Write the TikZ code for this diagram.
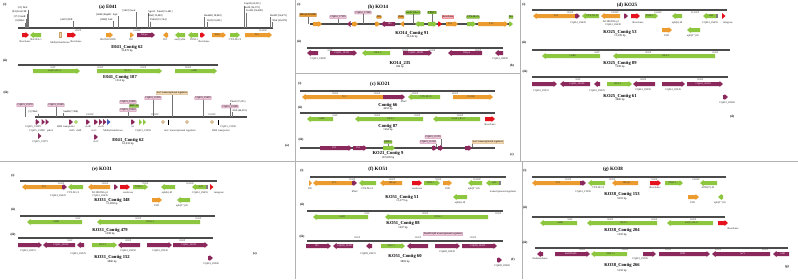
\documentclass[tikz,border=0pt]{standalone}
\usepackage{fontspec}
\setmainfont{Liberation Serif}
\definecolor{orc}{RGB}{236,156,46}
\definecolor{grc}{RGB}{141,198,63}
\definecolor{puc}{RGB}{139,40,92}
\definecolor{rdc}{RGB}{228,18,28}
\definecolor{blc}{RGB}{60,90,190}
\definecolor{pkf}{RGB}{236,200,218}
\definecolor{pkd}{RGB}{185,110,150}
\definecolor{bgf}{RGB}{243,217,177}
\definecolor{bgd}{RGB}{200,160,104}
\definecolor{barc}{RGB}{75,75,75}
\newcounter{gn}\newcounter{ln}
\newcommand{\gR}[5]{%
 \pgfmathsetmacro{\gh}{min(3.5,(#2-#1))}%
 \stepcounter{gn}%
 \fill[#4] (#1,#3-2) -- ({#2-\gh},#3-2) -- ({#2-\gh},#3-3) -- (#2,#3) -- ({#2-\gh},#3+3) -- ({#2-\gh},#3+2) -- (#1,#3+2) -- cycle;
 \node[inl,#4,fill=none] (g\arabic{gn}) at ({(#1+#2-\gh)/2},#3) {#5};}
\newcommand{\gL}[5]{%
 \pgfmathsetmacro{\gh}{min(3.5,(#2-#1))}%
 \stepcounter{gn}%
 \fill[#4] (#2,#3-2) -- ({#1+\gh},#3-2) -- ({#1+\gh},#3-3) -- (#1,#3) -- ({#1+\gh},#3+3) -- ({#1+\gh},#3+2) -- (#2,#3+2) -- cycle;
 \node[inl,#4,fill=none] (g\arabic{gn}) at ({(#1+#2+\gh)/2},#3) {#5};}
\newcommand{\lab}[3]{\stepcounter{ln}\node[gl] (l\arabic{ln}) at (#1,#2) {#3};}
\newcommand{\tk}[3]{\stepcounter{ln}\node[tkl] (t\arabic{ln}) at (#1,#2) {#3};}
\newcommand{\bx}[4]{\stepcounter{ln}\node[#1] (b\arabic{ln}) at (#2,#3) {#4};}
\newcommand{\rs}[5]{\stepcounter{ln}\node[rsl,anchor=#3] (r\arabic{ln}) at (#1,#2) {#4};
 \draw[lead] (r\arabic{ln}.#3) -- (r\arabic{ln}.#3 |- #5);}
\newcommand{\pin}[3]{\stepcounter{ln}\node[circle,inner sep=0,minimum size=3pt,fill=#3!40,draw=#3] (c\arabic{ln}) at (#1,#2) {};}
\begin{document}
\begin{tikzpicture}[x=1pt,y=-1pt,
 bar/.style={draw=barc,line width=1.4pt},
 sep/.style={draw=black!30,line width=0.7pt},
 lead/.style={draw=black!55,line width=0.25pt},
 pl/.style={font=\fontsize{3.2}{3.6}\selectfont\bfseries,inner sep=0},
 ttl/.style={font=\fontsize{5}{6}\selectfont\bfseries,inner sep=0},
 ctg/.style={font=\fontsize{4.6}{5}\selectfont\bfseries,inner sep=0},
 bpl/.style={font=\fontsize{2.8}{3}\selectfont,inner sep=0},
 tkl/.style={font=\fontsize{2.5}{2.8}\selectfont,inner sep=0,text=black!70},
 gl/.style={font=\fontsize{2.7}{3}\selectfont,inner sep=0,text=black!85},
 inl/.style={font=\fontsize{2.6}{2.8}\selectfont,inner sep=0},
 rsl/.style={font=\fontsize{2.6}{2.8}\selectfont,inner sep=0.2pt},
 boxl/.style={font=\fontsize{2.6}{2.8}\selectfont,inner sep=0.5pt,line width=0.25pt,rounded corners=0.4pt},
 pbox/.style={boxl,fill=pkf,draw=pkd},
 bbox/.style={boxl,fill=bgf,draw=bgd},
 gbox/.style={boxl,fill=grc,draw=grc!70!black},
 obox/.style={boxl,fill=orc,draw=orc!70!black},
 rbox/.style={boxl,fill=rdc!35,draw=rdc},
 geneO/.style={fill=orc,text=black!80},
 geneG/.style={fill=grc,text=black!80},
 geneP/.style={fill=puc,text=white},
 geneR/.style={fill=rdc,text=white},
 geneB/.style={fill=blc,text=white}]
\fill[white] (0,0) rectangle (798,279);
\useasboundingbox (0,0) rectangle (798,279);
% separators
\draw[sep] (295,0) -- (295,161);
\draw[sep] (520,0) -- (520,161);
\draw[sep] (0,161) -- (798,161);
\draw[sep] (295,161) -- (295,279);
\draw[sep] (522,161) -- (522,279);
\draw[sep] (295,73) -- (520,73);

%%%%%%%%%%%%%%%% (a) E041
\node[pl] (a-i) at (5,5) {(i)};
\node[ttl] (a-t) at (108,7) {(a) E041};
\coordinate (ba1) at (0,28);
\draw[bar] (18,28) -- (273,28);
\rs{28}{9.5}{south east}{[21] DraI}{ba1}
\rs{27}{13.5}{south east}{[83] EcoICRI}{ba1}
\rs{26}{18.5}{south east}{[173] AatII}{ba1}
\rs{25}{22.5}{south east}{[8] BbvI}{ba1}
\rs{73}{21}{south east}{[4419] SbfI}{ba1}
\rs{118}{16}{south east}{[6046] BspHI · SspI}{ba1}
\rs{113}{21}{south east}{[6890] AleI}{ba1}
\rs{136}{12}{south east}{[9433] SwaI}{ba1}
\rs{148}{13}{south west}{SgrAI · XmaI [15,481]}{ba1}
\rs{148}{17}{south west}{BlnI [15,483]}{ba1}
\rs{150}{21.5}{south west}{PshAI [15,764]}{ba1}
\rs{204}{17}{south west}{BamHI [18,863]}{ba1}
\rs{207}{22}{south west}{BclI [19,005]}{ba1}
\rs{244}{5.5}{south west}{FspAI [24,331]}{ba1}
\rs{244}{9}{south west}{AsiSI [24,375]}{ba1}
\rs{246}{12.5}{south west}{EcoNI [24,480]}{ba1}
\rs{270}{17}{south west}{BsiWI [26,475]}{ba1}
\rs{272}{22}{south west}{XbaI [26,879]}{ba1}
\tk{78}{31}{5000P}\tk{137}{31}{15000P}\tk{263}{31}{30,000P}
\gR{22}{29}{35}{geneR}{}
\gL{30}{41}{35}{geneG}{}
\fill[bgf,draw=bgd,line width=0.25pt] (59,32.5) rectangle (61.5,37.5);
\gR{67}{76}{35}{geneR}{}
\gR{106}{113}{35}{geneO}{}
\gR{130}{134}{35}{geneO}{}
\gR{137}{155}{35}{geneP}{ISKpn}
\gL{163}{168}{35}{geneO}{}
\gL{175}{185}{35}{geneG}{}
\gL{188}{198}{35}{geneG}{}
\gR{200}{205}{35}{geneR}{}
\gR{212}{226}{35}{geneO}{IS26}
\gR{230}{240}{35}{geneG}{}
\gR{245}{272}{35}{geneO}{Tn3}
\lab{25}{41.5}{Resolvase}\lab{36}{39.5}{blaOXA-1}
\lab{60}{42.5}{Methyltransferase}\lab{76}{41.5}{Resolvase}
\lab{108}{39.5}{IS6/IS26 DDE}\lab{131}{39.5}{IS5}\lab{165}{39.5}{IS3}
\lab{180}{39.5}{aac(3)-IIa}\lab{194}{39.5}{TEM-1}\lab{204}{42}{Resolvase}
\lab{235}{39.5}{CTX-M-15}
\node[ctg] (a-c1) at (127,47) {E041\_Contig 62};
\node[bpl] (a-b1) at (127,51) {35,879 bp};
% (ii)
\node[pl] (a-ii) at (5,61) {(ii)};
\draw[bar] (18,65) -- (218,65);
\tk{53}{67.5}{500P}\tk{100}{67.5}{1000P}\tk{143}{67.5}{1500P}\tk{188}{67.5}{2000P}
\gR{33}{80}{71}{geneG}{aac(6')-Ib-cr}
\gR{97}{162}{71}{geneG}{OXA-1}
\gR{175}{217}{71}{geneG}{catB3}
\node[ctg] (a-c2) at (120,77) {E041\_Contig 187};
\node[bpl] (a-b2) at (120,81) {1514 bp};
% (iii)
\node[pl] (a-iii) at (6,93) {(iii)};
\coordinate (ba3) at (0,117);
\draw[bar] (35,117) -- (247,117);
\bx{pbox}{25}{105}{CQ415\_19370}\draw[lead] (b\arabic{ln}.south) -- (b\arabic{ln}.south |- ba3);
\bx{pbox}{56}{105}{CQ415\_19385}\draw[lead] (b\arabic{ln}.south) -- (b\arabic{ln}.south |- ba3);
\rs{38}{113.5}{south east}{[3] XhoI}{ba3}
\rs{63}{113}{south west}{SnaBI (7,968)}{ba3}
\bx{pbox}{128}{102}{CQ415\_19405}
\bx{gbox}{134}{106}{SHV-11}
\bx{pbox}{128}{110}{CQ415\_19410}\draw[lead] (b\arabic{ln}.south) -- (b\arabic{ln}.south |- ba3);
\bx{pbox}{153}{98}{CQ415\_19395}\draw[lead] (b\arabic{ln}.south) -- (b\arabic{ln}.south |- ba3);
\bx{bbox}{172}{93}{tnsC transcriptional regulator}\draw[lead] (b\arabic{ln}.south) -- (b\arabic{ln}.south |- ba3);
\bx{pbox}{203}{98}{CQ415\_19425}\draw[lead] (b\arabic{ln}.south) -- (b\arabic{ln}.south |- ba3);
\rs{230}{103}{south west}{PmeI (37,221)}{ba3}
\bx{pbox}{230}{106.5}{CQ415\_19380}
\rs{232}{112}{south west}{AloI (46,535)}{ba3}
\tk{90}{114.5}{20000P}\tk{155}{114.5}{35000P}\tk{212}{114.5}{55000P}
\gR{35.5}{39.5}{122}{geneP}{}\gR{41.5}{45}{122}{geneP}{}\gR{45.5}{49}{122}{geneP}{}
\gR{69}{73}{122}{geneP}{}\pin{76}{122}{grc}
\gR{86}{90}{122}{geneP}{}\gR{94}{98}{122}{geneP}{}
\gR{99}{102.5}{122}{geneP}{}\gR{103}{106.5}{122}{geneP}{}\gR{107}{110.5}{122}{geneB}{}
\gR{131}{135}{122}{geneP}{}\gR{139}{142}{122}{geneG}{}\gR{143}{146}{122}{geneG}{}
\pin{163}{122}{bgd}\draw[black,line width=0.4pt] (168,119.5) -- (168,124.5);
\pin{187}{122}{bgd}
\pin{212}{122}{bgd}\draw[black,line width=0.4pt] (218,119.5) -- (218,124.5);
\gR{38}{41.5}{136}{geneP}{}\gR{94}{98}{137}{geneP}{}
\lab{33}{127}{CQ415\_19385}\lab{37}{130.5}{CQ415\_19380}\lab{50}{130.5}{pduA}
\lab{40}{141.5}{CQ415\_19375}
\lab{66}{127}{HRS transporter}\lab{72}{130.5}{rbsD}\lab{79}{130.5}{rbsB}
\lab{88}{127}{uvrB}\lab{101}{127}{uvrA}\lab{94}{130.5}{uvrC}
\lab{113}{130.5}{Methyltransferase}\lab{133}{127}{tsr}
\lab{143}{130.5}{CQ415\_19450}\lab{180}{130.5}{tnsC transcriptional regulator}
\lab{221}{130.5}{HRS transporter}\lab{228}{127}{CQ415\_19390}
\lab{96}{141.5}{uvrC}
\node[ctg] (a-c3) at (128,140) {E041\_Contig 62};
\node[bpl] (a-b3) at (128,144) {61,933 bp};
\node[pl] (a-l) at (287,146) {(a)};

%%%%%%%%%%%%%%%% (b) KO14
\node[pl] (b-i) at (299,5) {(i)};
\node[ttl] (b-t) at (378,7) {(b) KO14};
\coordinate (bb1) at (0,24);
\draw[bar] (310,24) -- (512,24);
\bx{obox}{308}{15}{ISEcp1/IS1380}\draw[lead] (b\arabic{ln}.south) -- (b\arabic{ln}.south |- bb1);
\bx{pbox}{338}{17}{CQ461\_17995}\draw[lead] (b\arabic{ln}.south) -- (b\arabic{ln}.south |- bb1);
\bx{pbox}{363}{12.5}{CQ461\_17980}\draw[lead] (b\arabic{ln}.south) -- (b\arabic{ln}.south |- bb1);
\bx{obox}{379}{17}{IS5}
\bx{obox}{401}{17}{IS26}
\bx{gbox}{413}{12.5}{aac(6')-Ib-cr}\draw[lead] (b\arabic{ln}.south) -- (b\arabic{ln}.south |- bb1);
\bx{gbox}{432}{12.5}{TEM-1}\draw[lead] (b\arabic{ln}.south) -- (b\arabic{ln}.south |- bb1);
\bx{rbox}{448}{17}{Resolvase}
\bx{gbox}{473}{17}{CTX-M-15}
\bx{gbox}{511}{17}{bla}
\gR{313}{322}{24}{geneO}{}
\gL{347}{350.5}{24}{geneP}{}
\gR{352}{358}{24}{geneO}{}
\gR{375}{380}{24}{geneO}{}
\gL{381}{395}{24}{geneP}{IS5}
\gL{400}{404}{24}{geneO}{}
\gL{415}{424}{24}{geneG}{}
\gR{428}{437}{24}{geneG}{}
\gR{438}{442}{24}{geneR}{}
\gR{446}{458}{24}{geneO}{IS1}
\gR{467}{476}{24}{geneG}{}
\gR{478}{508}{24}{geneO}{Tn3}
\gR{509}{513}{24}{geneG}{}
\node[ctg] (b-c1) at (412,33) {KO14\_Contig 91};
\node[bpl] (b-b1) at (412,37) {33,345 bp};
\node[pl] (b-ii) at (299,42) {(ii)};
\draw[bar] (307,48) -- (503,48);
\tk{330}{50.5}{500P}\tk{405}{50.5}{1000P}\tk{432}{50.5}{1500P}\tk{478}{50.5}{2000P}
\gL{307}{318}{53}{geneP}{}
\gR{330}{357}{53}{geneP}{CQ461\_18195}
\gL{362}{390}{53}{geneG}{OXA-1}
\gR{403}{432}{53}{geneP}{CQ461\_28085}
\gL{448}{482}{53}{geneP}{ISKpn}
\gL{495}{503}{53}{geneP}{}
\lab{318}{58.5}{CQ461\_18000}\lab{500}{58.5}{CQ461\_28090}
\node[ctg] (b-c2) at (400,63) {KO14\_235};
\node[bpl] (b-b2) at (400,67) {996 bp};
\node[pl] (b-l) at (512,66) {(b)};

%%%%%%%%%%%%%%%% (c) KO21
\node[pl] (c-i) at (300,84) {(i)};
\node[ttl] (c-t) at (380,84) {(c) KO21};
\draw[bar] (300,91) -- (495,91);
\tk{335}{93.5}{1000P}\tk{377}{93.5}{2000P}\tk{415}{93.5}{3000P}\tk{455}{93.5}{4000P}
\gL{302}{383}{97}{geneO}{Tn3}
\gR{383}{405}{97}{geneP}{}
\gL{408}{440}{97}{geneG}{CTX-M-15}
\gR{453}{493}{97}{geneO}{IS1380}
\lab{404}{101.8}{hNaC}
\node[ctg] (c-c1) at (388,105.3) {Contig 66};
\node[bpl] (c-b1) at (388,108.8) {4653 bp};
\node[pl] (c-ii) at (300,108) {(ii)};
\draw[bar] (300,113) -- (495,113);
\tk{335}{115.5}{500P}\tk{377}{115.5}{1000P}\tk{417}{115.5}{1500P}\tk{460}{115.5}{2000P}
\gL{307}{333}{119}{geneG}{catB3}
\gL{355}{423}{119}{geneG}{OXA-1}
\gL{433}{480}{119}{geneG}{aac(6')-Ib-cr}
\gR{485}{495}{119}{geneR}{}
\lab{490}{124.5}{Resolvase}
\node[ctg] (c-c2) at (388,126) {Contig 87};
\node[bpl] (c-b2) at (388,129.5) {1564 bp};
\node[pl] (c-iii) at (301,140) {(iii)};
\coordinate (bc3) at (0,148);
\bx{gbox}{388}{142}{SHV-1}\draw[lead] (b\arabic{ln}.south) -- (b\arabic{ln}.south |- bc3);
\bx{pbox}{433}{137}{CQ415\_11255}\draw[lead] (b\arabic{ln}.south east) -- (b\arabic{ln}.south east |- bc3);
\bx{pbox}{428}{142}{CQ415\_11250}\draw[lead] (b\arabic{ln}.south east) -- (b\arabic{ln}.south east |- bc3);
\bx{bbox}{488}{142}{tnsC transcriptional regulator}\draw[lead] (b\arabic{ln}.south west) -- (b\arabic{ln}.south west |- bc3);
\draw[bar] (300,148) -- (495,148);
\gR{320}{352}{148}{geneP}{IS5}
\gR{353}{367}{148}{geneP}{IS1}
\gR{383}{395}{148}{geneG}{}
\gR{432}{437}{148}{geneP}{}\gR{438}{443.5}{148}{geneP}{}
\gR{465}{472}{148}{geneP}{}
\node[ctg] (c-c3) at (388,153.5) {KO21\_Contig 9};
\node[bpl] (c-b3) at (388,157.5) {187,899 bp};
\node[pl] (c-l) at (512,155) {(c)};

%%%%%%%%%%%%%%%% (d) KO25
\node[pl] (d-i) at (524,5) {(i)};
\node[ttl] (d-t) at (627,5) {(d) KO25};
\draw[bar] (532,10) -- (727,10);
\tk{570}{12.5}{5000P}\tk{615}{12.5}{10000P}\tk{658}{12.5}{15000P}\tk{695}{12.5}{20,000P}
\gL{533}{575}{16}{geneO}{Tn3}
\gR{575}{580}{16}{geneP}{}
\gL{582}{599}{16}{geneG}{CTX-M-15}
\gL{601}{620}{16}{geneO}{}
\gR{624}{628}{16}{geneP}{}
\gR{631}{640}{16}{geneR}{}
\gR{645}{658}{16}{geneG}{TEM-1}
\gL{672}{682}{16}{geneG}{}
\gL{703}{716}{16}{geneG}{sul2}
\fill[black!50] (716,14) rectangle (718,18);
\gR{722}{725.5}{16}{geneR}{}
\lab{578}{22.5}{CQ461\_26620}\lab{611}{21.5}{IS1380/ISEcp1}\lab{613}{25}{CQ461\_26630}
\lab{638}{22.5}{Resolvase}\lab{677}{22.5}{aph(6)-Id}\lab{710}{22.5}{CQ461\_26655}\lab{728}{22.5}{integrase}
\gR{662}{672}{30}{geneO}{}\lab{667}{35.5}{IS91}
\gL{687}{700}{30}{geneG}{}\lab{693}{35.5}{aph(3'{}')-Ib}
\node[ctg] (d-c1) at (620,32) {KO25\_Contig 53};
\node[bpl] (d-b1) at (620,36) {11,599 bp};
\node[pl] (d-ii) at (524,43) {(ii)};
\draw[bar] (532,50) -- (730,50);
\tk{597}{52.5}{500P}\tk{648}{52.5}{1000P}\tk{715}{52.5}{1500P}
\gL{542}{600}{56}{geneG}{catB3}
\gL{613}{715}{56}{geneG}{OXA-1}
\node[ctg] (d-c2) at (620,63) {KO25\_Contig 89};
\node[bpl] (d-b2) at (620,67) {1398 bp};
\node[pl] (d-iii) at (525,72) {(iii)};
\draw[bar] (532,77) -- (728,77);
\tk{578}{79.5}{500P}\tk{643}{79.5}{1000P}\tk{700}{79.5}{1500P}
\gR{532}{557}{84}{geneP}{}
\gL{560}{590}{84}{geneP}{CQ461\_26930}
\gL{594}{600}{84}{geneP}{}
\gR{607}{632}{84}{geneG}{SHV-1}
\gL{633}{655}{84}{geneP}{}
\gR{662}{685}{84}{geneP}{}
\gR{687}{723}{84}{geneP}{CQ461\_26955}
\lab{541}{90.5}{CQ461\_26915}\lab{597}{90.5}{CQ461\_26925}\lab{643}{90}{CQ461\_26950}\lab{673}{90}{CQ461\_26945}
\gR{723}{728}{97}{geneP}{}\lab{727}{102.5}{CQ461\_26960}
\node[ctg] (d-c3) at (620,96) {KO25\_Contig 61};
\node[bpl] (d-b3) at (620,100) {3880 bp};
\node[pl] (d-l) at (732,117) {(d)};

%%%%%%%%%%%%%%%% (e) KO31
\node[ttl] (e-t) at (102,169) {(e) KO31};
\node[pl] (e-i) at (13,176) {(i)};
\draw[bar] (20,181) -- (217,181);
\tk{61}{183.5}{2500P}\tk{105}{183.5}{5000P}\tk{145}{183.5}{7500P}\tk{190}{183.5}{10,000P}
\gL{22}{62}{187}{geneO}{Tn3}
\gR{62}{67}{187}{geneP}{}
\gL{68}{83}{187}{geneG}{}
\gL{88}{110}{187}{geneO}{}
\gR{114}{118}{187}{geneP}{}
\gR{120}{130}{187}{geneR}{}
\gR{133}{148}{187}{geneG}{TEM-1}
\gL{161}{175}{187}{geneG}{}
\gL{192}{206}{187}{geneG}{sul2}
\fill[black!50] (206,185) rectangle (208,189);
\gR{210}{213.5}{187}{geneR}{}
\lab{73}{192.5}{CTX-M-15}\lab{58}{196}{CQ461\_26625}\lab{100}{192.5}{IS1380/ISEcp1}\lab{100}{196}{CQ461\_26635}
\lab{128}{193}{resolvase}\lab{167}{193}{aph(6)-Id}\lab{200}{193}{CQ461\_26655}\lab{219}{193}{integrase}
\gR{152}{162}{200}{geneO}{}\lab{157}{205.5}{IS91}
\gL{177}{190}{200}{geneG}{}\lab{182}{205.5}{aph(3'{}')-Ib}
\node[ctg] (e-c1) at (112,200) {KO31\_Contig 348};
\node[bpl] (e-b1) at (112,204) {11,599 bp};
\node[pl] (e-ii) at (13,210) {(ii)};
\draw[bar] (20,216) -- (215,216);
\tk{78}{218.5}{500P}\tk{138}{218.5}{1000P}\tk{198}{218.5}{1500P}
\gL{27}{82}{222}{geneG}{catB3}
\gL{97}{200}{222}{geneG}{OXA-1}
\node[ctg] (e-c2) at (110,230) {KO31\_Contig 479};
\node[bpl] (e-b2) at (110,234) {1398 bp};
\node[pl] (e-iii) at (13,235) {(iii)};
\draw[bar] (18,238) -- (213,238);
\tk{70}{240.5}{500P}\tk{128}{240.5}{1000P}\tk{182}{240.5}{1500P}
\gR{18}{42}{245}{geneP}{}
\gL{43}{75}{245}{geneP}{CQ461\_26930}
\gL{77}{84}{245}{geneP}{}
\gR{92}{117}{245}{geneG}{SHV-1}
\gL{118}{140}{245}{geneP}{}
\gR{147}{172}{245}{geneP}{}
\gR{173}{208}{245}{geneP}{CQ461\_26955}
\lab{28}{250.5}{CQ461\_26915}\lab{78}{253.5}{CQ461\_26925}\lab{128}{250.5}{CQ461\_26950}\lab{160}{250.5}{CQ461\_26945}
\gR{208}{213}{258}{geneP}{}\lab{211}{263.5}{CQ461\_26960}
\node[ctg] (e-c3) at (112,257) {KO31\_Contig 152};
\node[bpl] (e-b3) at (112,262) {3880 bp};
\node[pl] (e-l) at (255,254) {(e)};

%%%%%%%%%%%%%%%% (f) KO51
\node[ttl] (f-t) at (378,169) {(f) KO51};
\node[pl] (f-i) at (302,171) {(i)};
\draw[bar] (310,177) -- (506,177);
\tk{352}{179.5}{2500P}\tk{392}{179.5}{5000P}\tk{438}{179.5}{7500P}\tk{477}{179.5}{10,000P}
\gR{309}{312}{183}{geneO}{}
\gL{313}{352}{183}{geneO}{Tn3}
\gR{352}{357}{183}{geneP}{}
\gL{359}{376}{183}{geneG}{}
\gL{380}{402}{183}{geneO}{ISEcp1}
\gR{412}{422}{183}{geneR}{}
\gR{424}{440}{183}{geneG}{TEM-1}
\gR{443}{452}{183}{geneO}{}
\gL{468}{482}{183}{geneG}{}
\gL{486}{499}{183}{geneG}{sul2}
\fill[black!50] (499,181) rectangle (501,185);
\lab{310}{188.5}{IS5}\lab{355}{192}{hNaC}\lab{367}{188.5}{CTX-M-15}\lab{417}{188.5}{resolvase}
\lab{448}{188.5}{IS91}\lab{474}{188.5}{aph(3'{}')-Ib}\lab{503}{192}{transcriptional regulator}
\gL{453}{467}{197}{geneG}{}\lab{460}{202.5}{aph(6)-Id}
\node[ctg] (f-c1) at (402,197) {KO51\_Contig 51};
\node[bpl] (f-b1) at (402,201) {11,377 bp};
\node[pl] (f-ii) at (302,205) {(ii)};
\draw[bar] (307,211) -- (503,211);
\tk{367}{213.5}{500P}\tk{425}{213.5}{1000P}\tk{498}{213.5}{1500P}
\gL{313}{368}{217}{geneG}{catB3}
\gL{385}{488}{217}{geneG}{OXA-1}
\node[ctg] (f-c2) at (403,223) {KO51\_Contig 88};
\node[bpl] (f-b2) at (403,227.5) {1507 bp};
\bx{pbox}{443}{234}{DeoR/GlpR transcriptional regulator}
\node[pl] (f-iii) at (302,237) {(iii)};
\draw[bar] (307,241) -- (503,241);
\tk{357}{238}{1000P}\tk{418}{238}{2000P}\tk{473}{238}{3000P}
\gR{306}{331}{246}{geneP}{IS5}
\gL{333}{353}{246}{geneP}{CQ608\_28425}
\gL{366}{372}{246}{geneP}{}
\gR{381}{405}{246}{geneG}{SHV-1}
\gL{407}{428}{246}{geneP}{}
\gR{435}{460}{246}{geneP}{}
\gR{462}{497}{246}{geneP}{CQ608\_28455}
\lab{368}{254}{CQ608\_28415}\lab{447}{251.5}{CQ608\_28430}
\gR{497}{502}{260}{geneP}{}\lab{502}{265.5}{CQ608\_28460}
\node[ctg] (f-c3) at (405,256) {KO51\_Contig 60};
\node[bpl] (f-b3) at (405,262) {3883 bp};
\node[pl] (f-l) at (513,260) {(f)};

%%%%%%%%%%%%%%%% (g) KO38
\node[ttl] (g-t) at (613,169) {(g) KO38};
\node[pl] (g-i) at (525,171) {(i)};
\draw[bar] (532,177) -- (726,177);
\tk{568}{179.5}{2500P}\tk{612}{179.5}{5000P}\tk{654}{179.5}{7500P}\tk{696}{179.5}{10000P}
\gL{532}{580}{183}{geneO}{Tn3}
\gR{580}{586}{183}{geneP}{}
\gL{588}{605}{183}{geneG}{}
\gL{612}{638}{183}{geneO}{ISEcp1}
\gR{650}{661}{183}{geneR}{}
\gR{665}{683}{183}{geneG}{TEM-1}
\gL{700}{717}{183}{geneG}{}
\lab{583}{191.5}{CQ461\_21905}\lab{598}{188}{CTX-M-15}\lab{655}{188}{Resolvase}\lab{708}{188}{APH(3')-Ib}
\gR{688}{699}{197}{geneO}{}\lab{693}{202.5}{IS91}
\gL{718}{723}{197}{geneG}{}\lab{720}{202.5}{aph(3'{}')-Ib}
\node[ctg] (g-c1) at (622,194) {KO38\_Contig 153};
\node[bpl] (g-b1) at (622,198.5) {9191 bp};
\node[pl] (g-ii) at (525,208) {(ii)};
\draw[bar] (532,217) -- (725,217);
\tk{570}{219.5}{500P}\tk{610}{219.5}{1000P}\tk{654}{219.5}{1500P}\tk{693}{219.5}{2000P}
\gL{540}{577}{223}{geneG}{catB3}
\gL{587}{657}{223}{geneG}{OXA-1}
\gL{667}{713}{223}{geneG}{aac(6')-Ib-cr}
\gR{718}{728}{223}{geneR}{}\lab{733}{228.5}{Resolvase}
\node[ctg] (g-c2) at (622,230) {KO38\_Contig 204};
\node[bpl] (g-b2) at (622,234.5) {1592 bp};
\node[pl] (g-iii) at (525,243) {(iii)};
\draw[bar] (535,248) -- (788,248);
\tk{582}{250}{1000P}\tk{625}{250}{2000P}\tk{668}{250}{3000P}\tk{718}{250}{4000P}\tk{765}{250}{5000P}
\gL{537}{543}{254}{geneP}{}
\gR{555}{590}{254}{geneP}{hsdM/hsdS}
\gL{591}{627}{254}{geneG}{SHV-11}
\gR{643}{656}{254}{geneP}{}
\gR{659}{710}{254}{geneP}{SDH}
\gL{712}{770}{254}{geneP}{lacY}
\gL{773}{789}{254}{geneP}{tetR}
\lab{540}{259}{Endonuclease}\lab{640}{259}{CQ461\_25305}
\node[ctg] (g-c3) at (622,265) {KO38\_Contig 266};
\node[bpl] (g-b3) at (622,270.5) {5193 bp};
\node[pl] (g-l) at (787,267) {(g)};
\end{tikzpicture}
\end{document}
